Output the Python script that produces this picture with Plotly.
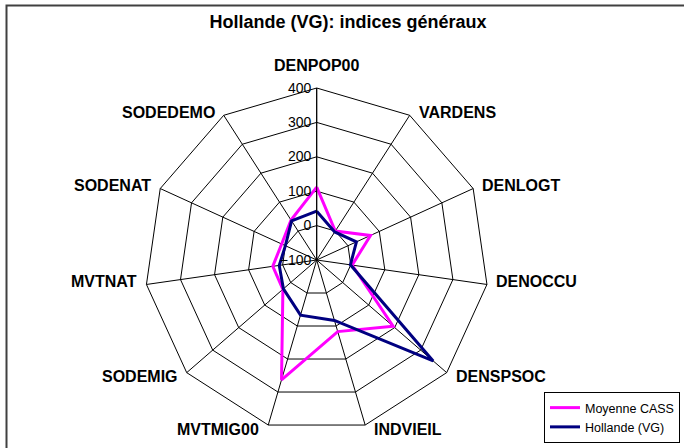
import math
import plotly.graph_objects as go

categories = ["DENPOP00", "VARDENS", "DENLOGT", "DENOCCU", "DENSPSOC", "INDVIEIL",
              "MVTMIG00", "SODEMIG", "MVTNAT", "SODENAT", "SODEDEMO"]
moyenne_cass = [112, 0, 72, 4, 194, 117, 263, 30, 29, 12, 38]
hollande_vg = [42, -3, 27, -1, 348, 83, 67, 28, 10, 0, 35]
radial_ticks = [-100, 0, 100, 200, 300, 400]

W, H = 684, 448
cx, cy, R = 316.7, 260.0, 172.0

fig = go.Figure()
fig.add_trace(go.Scatterpolar(
    r=moyenne_cass + moyenne_cass[:1], theta=categories + categories[:1],
    mode="lines", name="Moyenne CASS",
    line=dict(color="#FF00FF", width=3)))
fig.add_trace(go.Scatterpolar(
    r=hollande_vg + hollande_vg[:1], theta=categories + categories[:1],
    mode="lines", name="Hollande (VG)",
    line=dict(color="#000080", width=3)))

# category labels placed next to the outer polygon vertices (Excel style)
annotations = []
n = len(categories)
for i, name in enumerate(categories):
    a = 2 * math.pi * i / n
    vx = cx + R * math.sin(a)
    vy = cy - R * math.cos(a)
    if i == 0:
        x, y, xa = vx, vy - 23, "center"
    else:
        dy = -3 if math.cos(a) > -0.5 else 4
        x = vx + 7 if math.sin(a) > 0 else vx - 7
        y = vy + dy
        xa = "left" if math.sin(a) > 0 else "right"
    annotations.append(dict(text="<b>%s</b>" % name, x=x / W, y=1 - y / H,
                            xref="paper", yref="paper", xanchor=xa, yanchor="middle",
                            showarrow=False, font=dict(size=16, color="black")))

fig.update_layout(
    width=W, height=H,
    margin=dict(l=0, r=0, t=0, b=0),
    paper_bgcolor="white",
    font=dict(family="Liberation Sans, Arial, sans-serif", color="black"),
    title=dict(text="<b>Hollande (VG): indices généraux</b>",
               x=348 / W, xanchor="center", y=1 - 22 / H, yanchor="middle",
               font=dict(size=18, color="black")),
    polar=dict(
        domain=dict(x=[(cx - R) / W, (cx + R) / W],
                    y=[1 - (cy + R) / H, 1 - (cy - R) / H]),
        bgcolor="white",
        gridshape="linear",
        angularaxis=dict(direction="clockwise", rotation=90,
                         showline=True, linecolor="black", linewidth=1,
                         gridcolor="black", gridwidth=1, ticks="",
                         showticklabels=False),
        radialaxis=dict(range=[-100, 400], tickvals=radial_ticks,
                        angle=90, tickangle=90, side="counterclockwise",
                        ticksuffix="<span style='color:rgba(0,0,0,0)'>0</span>",
                        showline=True, linecolor="black", linewidth=1,
                        gridcolor="black", gridwidth=1, ticks="",
                        tickfont=dict(size=14, color="black")),
    ),
    annotations=annotations,
    showlegend=True,
    legend=dict(x=544 / W, xanchor="left", y=1 - 392 / H, yanchor="top",
                bordercolor="black", borderwidth=1, bgcolor="white",
                font=dict(size=12.5, color="black"), tracegroupgap=0),
    shapes=[dict(type="rect", xref="paper", yref="paper",
                 x0=6.5 / W, x1=1.05, y0=-0.05, y1=1 - 5.5 / H,
                 line=dict(color="#404040", width=2), fillcolor="rgba(0,0,0,0)",
                 layer="below")],
)

fig.write_html("out.html", config={"displayModeBar": False},
               post_script="document.body.style.margin='0';document.body.style.overflow='hidden';")
